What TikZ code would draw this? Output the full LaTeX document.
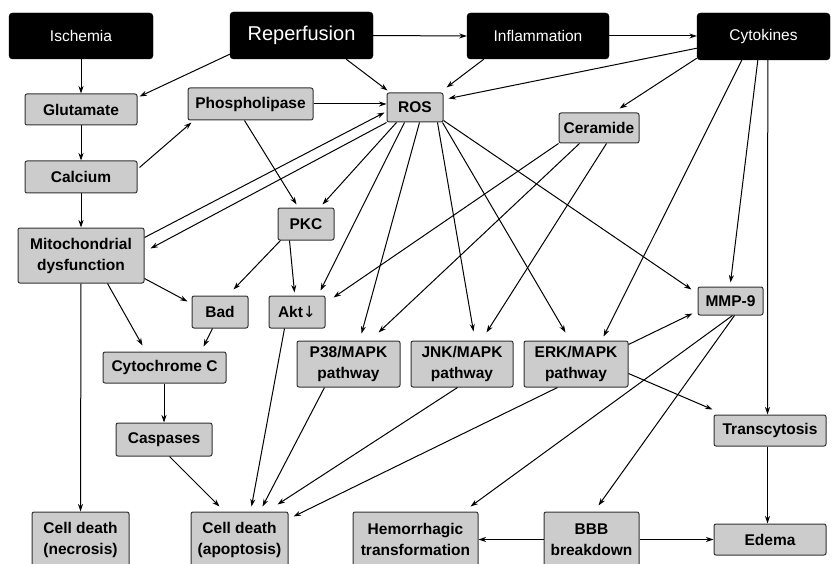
\documentclass[tikz,border=0pt]{standalone}
\usepackage{fontspec}
\setmainfont{Liberation Sans}
\usetikzlibrary{arrows.meta}
\definecolor{boxgray}{RGB}{204,204,204}
\definecolor{boxline}{RGB}{50,50,50}
\begin{document}
\begin{tikzpicture}[x=1pt,y=-1pt,
  blackbox/.style={draw=black,fill=black,text=white,rounded corners=3.5pt,inner sep=0pt,font=\fontsize{15.5}{18}\selectfont},
  graybox/.style={draw=boxline,fill=boxgray,rounded corners=2pt,line width=1pt,inner sep=0pt,align=center,font=\bfseries\fontsize{15.5}{21}\selectfont},
  arr/.style={-{Stealth[length=7.5pt,width=5pt]},line width=1pt,black}]
\useasboundingbox (0,0) rectangle (832,564);
\begin{scope}
\clip (0,0) rectangle (832,564);
% black boxes
\node[blackbox,minimum width=144pt,minimum height=46pt] (isch) at (81,36) {Ischemia};
\node[blackbox,minimum width=143pt,minimum height=47pt,font=\fontsize{20}{24}\selectfont] (rep) at (301.5,35.5) {Reperfusion};
\node[blackbox,minimum width=142pt,minimum height=46pt] (infl) at (538,36) {Inflammation};
\node[blackbox,minimum width=133pt,minimum height=47pt] (cyto) at (763.5,36.5) {Cytokines};
% gray boxes
\node[graybox,minimum width=112pt,minimum height=31pt] (glut) at (81,109.5) {Glutamate};
\node[graybox,minimum width=125pt,minimum height=32pt] (phos) at (250.5,104) {Phospholipase};
\node[graybox,minimum width=56pt,minimum height=29pt] (ros) at (415,107.5) {ROS};
\node[graybox,minimum width=80pt,minimum height=30pt] (cer) at (599,128) {Ceramide};
\node[graybox,minimum width=112pt,minimum height=32pt] (calc) at (81,177) {Calcium};
\node[graybox,minimum width=126pt,minimum height=55pt] (mito) at (81,255.5) {Mitochondrial\\dysfunction};
\node[graybox,minimum width=56pt,minimum height=32pt] (pkc) at (306,224) {PKC};
\node[graybox,minimum width=56pt,minimum height=32pt] (bad) at (220,312) {Bad};
\node[graybox,minimum width=56pt,minimum height=32pt] (akt) at (297,312) {Akt{\fontspec{DejaVu Sans}\mdseries ↓}};
\node[graybox,minimum width=123pt,minimum height=31pt] (cytc) at (164.5,367.5) {Cytochrome C};
\node[graybox,minimum width=103pt,minimum height=46pt] (p38) at (348.5,364) {P38/MAPK\\pathway};
\node[graybox,minimum width=102pt,minimum height=46pt] (jnk) at (462,364) {JNK/MAPK\\pathway};
\node[graybox,minimum width=104pt,minimum height=46pt] (erk) at (576,364) {ERK/MAPK\\pathway};
\node[graybox,minimum width=65pt,minimum height=28pt] (mmp) at (730.5,301) {MMP-9};
\node[graybox,minimum width=96pt,minimum height=33pt] (casp) at (164,439.5) {Caspases};
\node[graybox,minimum width=112pt,minimum height=31pt] (trans) at (770,430.5) {Transcytosis};
\node[graybox,minimum width=97pt,minimum height=55pt] (necro) at (80.5,539.5) {Cell death\\(necrosis)};
\node[graybox,minimum width=97pt,minimum height=55pt] (apop) at (239.5,539.5) {Cell death\\(apoptosis)};
\node[graybox,minimum width=125pt,minimum height=55pt] (hemo) at (415.5,539.5) {Hemorrhagic\\transformation};
\node[graybox,minimum width=95pt,minimum height=55pt] (bbb) at (591.5,539.5) {BBB\\breakdown};
\node[graybox,minimum width=112pt,minimum height=31pt] (edema) at (770,539.5) {Edema};
% connectors
\draw[arr] (isch.south) -- (glut.north);
\draw[arr] (glut.south) -- (calc.north);
\draw[arr] (calc.south) -- (mito.north);
\draw[arr] (mito.south) -- (necro.north);
\draw[arr] ([yshift=5pt]rep.south west) -- ([xshift=2pt,yshift=-3pt]glut.north east);
\draw[arr] ([xshift=-27pt]rep.south east) -- ([xshift=1pt,yshift=2pt]ros.north west);
\draw[arr] (rep.east) -- (infl.west);
\draw[arr] (infl.east) -- (infl.east -| cyto.west);
\draw[arr] ([xshift=17pt]infl.south west) -- ([xshift=3pt,yshift=5pt]ros.north east);
\draw[arr] ([yshift=12pt]cyto.south west) -- ([xshift=5pt,yshift=-6pt]ros.north east);
\draw[arr] ([yshift=2pt]cyto.south west) -- ([xshift=-20pt,yshift=4pt]cer.north east);
\draw[arr] ([xshift=45pt]cyto.south west) -- ([xshift=-25pt,yshift=4pt]erk.north east);
\draw[arr] ([xshift=61pt]cyto.south west) -- ([xshift=33pt,yshift=4pt]mmp.north west);
\draw[arr] ([xshift=71pt]cyto.south west) -- ([xshift=54pt]trans.north west);
\draw[arr] ([xshift=2pt,yshift=-7pt]calc.north east) -- ([xshift=4pt,yshift=-2pt]phos.south west);
\draw[arr] (phos.east) -- (phos.east -| ros.west);
\draw[arr] ([xshift=57pt]phos.south west) -- ([xshift=19pt,yshift=3pt]pkc.north west);
\draw[arr] ([xshift=10pt]ros.south west) -- ([xshift=-12pt,yshift=3pt]pkc.north east);
\draw[arr] ([yshift=-10pt]mito.north east) -- ([xshift=-2pt,yshift=-20pt]ros.north west);
\draw[arr] (ros.south west) -- ([xshift=6pt,yshift=-21pt]mito.north east);
\draw[arr] ([xshift=18pt]ros.south west) -- ([xshift=-5pt,yshift=5pt]akt.north east);
\draw[arr] ([xshift=33pt]ros.south west) -- ([xshift=65pt,yshift=7pt]p38.north west);
\draw[arr] ([xshift=-6pt]ros.south east) -- ([xshift=63pt,yshift=9pt]jnk.north west);
\draw[arr] ([xshift=-1pt]ros.south east) -- ([xshift=42pt,yshift=8pt]erk.north west);
\draw[arr] ([yshift=2pt]ros.south east) -- ([xshift=-6pt,yshift=-3pt]mmp.north west);
\draw[arr] (cer.south west) -- ([xshift=8pt,yshift=-2pt]akt.north east);
\draw[arr] ([xshift=21pt]cer.south west) -- ([xshift=-22pt,yshift=8pt]p38.north east);
\draw[arr] ([xshift=48pt]cer.south west) -- ([xshift=76pt,yshift=8pt]jnk.north west);
\draw[arr] ([xshift=3pt]pkc.south west) -- ([xshift=-15pt,yshift=6pt]bad.north east);
\draw[arr] ([xshift=12pt]pkc.south west) -- ([xshift=26pt,yshift=3pt]akt.north west);
\draw[arr] ([yshift=5pt]mito.south east) -- ([xshift=-4pt,yshift=-6pt]bad.north west);
\draw[arr] ([xshift=90pt]mito.south west) -- ([xshift=40pt,yshift=6pt]cytc.north west);
\draw[arr] ([xshift=21pt]bad.south west) -- ([xshift=-23pt,yshift=5pt]cytc.north east);
\draw[arr] ([xshift=-0.5pt]cytc.south) -- ([xshift=-0.5pt]cytc.south |- casp.north);
\draw[arr] ([xshift=54pt]casp.south west) -- ([xshift=29pt,yshift=5pt]apop.north west);
\draw[arr] ([xshift=16pt]akt.south west) -- ([xshift=61pt,yshift=5pt]apop.north west);
\draw[arr] ([xshift=28pt]p38.south west) -- ([xshift=72pt,yshift=5pt]apop.north west);
\draw[arr] ([xshift=47pt]jnk.south west) -- ([xshift=87pt,yshift=7pt]apop.north west);
\draw[arr] ([xshift=34pt]erk.south west) -- ([xshift=5pt,yshift=-5pt]apop.north east);
\draw[arr] ([yshift=-4pt]erk.north east) -- ([xshift=-5pt,yshift=2pt]mmp.south west);
\draw[arr] ([yshift=14pt]erk.south east) -- ([xshift=-1pt,yshift=5pt]trans.north west);
\draw[arr] ([xshift=35pt]mmp.south west) -- ([xshift=-8pt,yshift=5pt]hemo.north east);
\draw[arr] ([xshift=37pt]mmp.south west) -- ([xshift=55pt,yshift=6pt]bbb.north west);
\draw[arr] ([xshift=54pt]trans.south west) -- ([xshift=54pt]edema.north west);
\draw[arr] (bbb.west) -- (bbb.west -| hemo.east);
\draw[arr] (bbb.east) -- (bbb.east -| edema.west);
\end{scope}
\end{tikzpicture}
\end{document}
